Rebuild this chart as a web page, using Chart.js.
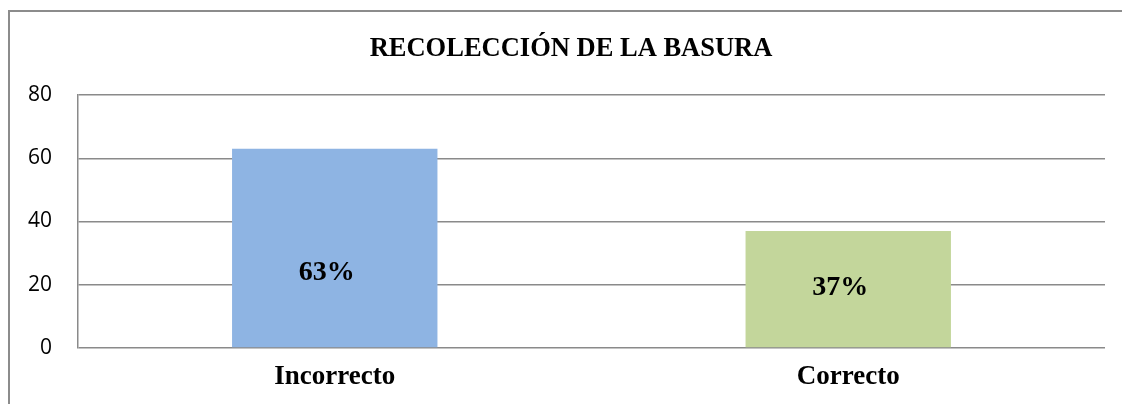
<!DOCTYPE html>
<html>
<head>
<meta charset="utf-8">
<script src="https://cdn.jsdelivr.net/npm/chart.js@4/dist/chart.umd.min.js"></script>
<style>
  html, body { margin: 0; padding: 0; background: #fff; overflow: hidden; }
  #wrap { position: relative; width: 1122px; height: 404px; }
  #frame { position: absolute; left: 8px; top: 10px; width: 1200px; height: 500px; border: 2px solid #8c8c8c; box-sizing: border-box; }
  #chart { position: absolute; left: 0; top: 0; }
</style>
</head>
<body>
<div id="wrap">
  <div id="frame"></div>
  <canvas id="chart" width="1122" height="404"></canvas>
</div>
<script>
// --- datos del gráfico ---
const TITLE = 'RECOLECCIÓN DE LA BASURA';
const CATEGORIES = ['Incorrecto', 'Correcto'];
const VALUES = [63, 37];
const COLORS = ['#8EB4E3', '#C3D69B'];
const Y_TICKS = [0, 20, 40, 60, 80];

// título centrado sobre el marco completo (no sobre el área del gráfico)
const frameTitle = {
    id: 'frameTitle',
    afterDraw(chart, args, opts) {
        const ctx = chart.ctx;
        ctx.save();
        ctx.font = opts.font;
        ctx.fillStyle = '#000';
        ctx.textAlign = 'center';
        ctx.textBaseline = 'alphabetic';
        ctx.fillText(opts.text, opts.x, opts.y);
        ctx.restore();
    }
};

// etiquetas de porcentaje dentro de las barras
const barLabels = {
    id: 'barLabels',
    afterDatasetsDraw(chart, args, opts) {
        const ctx = chart.ctx;
        const meta = chart.getDatasetMeta(0);
        ctx.save();
        ctx.font = opts.font;
        ctx.fillStyle = '#000';
        ctx.textAlign = 'center';
        ctx.textBaseline = 'middle';
        meta.data.forEach((bar, i) => {
            const y = (bar.y + bar.base) / 2 + (opts.offsets[i] || 0);
            ctx.fillText(VALUES[i] + '%', bar.x - 8, y);
        });
        ctx.restore();
    }
};

window.onload = () => {
    const ctx = document.getElementById('chart').getContext('2d');
    new Chart(ctx, {
        type: 'bar',
        data: {
            labels: CATEGORIES,
            datasets: [{
                data: VALUES,
                backgroundColor: COLORS,
                borderWidth: 0,
                categoryPercentage: 1,
                barPercentage: 0.4
            }]
        },
        plugins: [barLabels, frameTitle],
        options: {
            responsive: false,
            animation: false,
            layout: { padding: { left: 0, right: 17, top: 95, bottom: 0 } },
            plugins: {
                legend: { display: false },
                tooltip: { enabled: false },
                title: { display: false },
                frameTitle: {
                    text: TITLE,
                    font: 'bold 26.5px "Liberation Serif"',
                    x: 571,
                    y: 56
                },
                barLabels: {
                    font: 'bold 28px "Liberation Serif"',
                    offsets: [25, -1]
                }
            },
            scales: {
                x: {
                    grid: { display: false, drawTicks: false },
                    border: { display: false },
                    ticks: {
                        color: '#000',
                        padding: 13,
                        font: { family: 'Liberation Serif', size: 27, weight: 'bold' }
                    },
                    afterFit(scale) { scale.height = 56; }
                },
                y: {
                    min: 0,
                    max: 80,
                    afterBuildTicks(scale) { scale.ticks = Y_TICKS.map(v => ({ value: v })); },
                    grid: { color: '#8a8a8a', lineWidth: 1.5, drawTicks: false },
                    border: { display: true, color: '#8a8a8a', width: 1.5 },
                    ticks: {
                        color: '#000',
                        padding: 26,
                        font: { family: 'Open Sans', size: 21 }
                    },
                    afterFit(scale) { scale.width = 78; }
                }
            }
        }
    });
};
</script>
</body>
</html>
